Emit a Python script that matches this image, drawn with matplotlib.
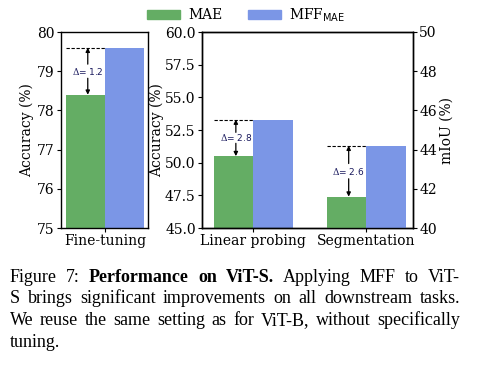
import matplotlib
matplotlib.use("Agg")
import matplotlib.pyplot as plt
from matplotlib.patches import Patch

plt.rcParams['font.family'] = 'DejaVu Serif'
plt.rcParams['mathtext.fontset'] = 'dejavuserif'

# ---- data ----
ft_labels = ["Fine-tuning"]
ft_mae = [78.4]
ft_mff = [79.6]
mid_labels = ["Linear probing", "Segmentation"]
lp_mae = 50.5
lp_mff = 53.3
seg_mae = 41.6
seg_mff = 44.2
deltas = ["1.2", "2.8", "2.6"]
series_names = ["MAE", r"MFF$_{\mathsf{MAE}}$"]

GREEN = "#64ad64"
BLUE = "#7b96e6"
W = 0.35
FS = 10

fig = plt.figure(figsize=(4.81, 3.68), dpi=100)

def style_ax(ax):
    ax.tick_params(labelsize=FS, length=3, width=0.8, pad=1.5)
    for s in ax.spines.values():
        s.set_linewidth(1.0)

def delta_mark(ax, x, lo, hi, txt):
    ax.plot([x - W, x], [hi, hi], ls='--', color='black', lw=0.8, dashes=(3, 1.5))
    mid = (lo + hi) / 2
    xa = x - W / 2 + 0.02
    ax.text(xa, mid, r"$\Delta$= " + txt, fontsize=6.5, family='DejaVu Sans',
            ha='center', va='center', color='#1a1a5e')
    span = hi - lo
    ax.annotate("", xy=(xa, hi), xytext=(xa, mid + span * 0.15),
                arrowprops=dict(arrowstyle='-|>', lw=0.9, color='black', mutation_scale=6, shrinkA=0, shrinkB=0))
    ax.annotate("", xy=(xa, lo), xytext=(xa, mid - span * 0.15),
                arrowprops=dict(arrowstyle='-|>', lw=0.9, color='black', mutation_scale=6, shrinkA=0, shrinkB=0))

# ---- left axes ----
ax1 = fig.add_axes([61/481, 1 - 228/368, 87/481, 196/368])
ax1.bar([-W/2], ft_mae, width=W, color=GREEN)
ax1.bar([W/2], ft_mff, width=W, color=BLUE)
ax1.set_ylim(75, 80)
ax1.set_xlim(-0.395, 0.385)
ax1.set_yticks([75, 76, 77, 78, 79, 80])
ax1.set_xticks([0])
ax1.set_xticklabels(ft_labels)
ax1.set_ylabel("Accuracy (%)", fontsize=FS, labelpad=2)
style_ax(ax1)
delta_mark(ax1, 0, ft_mae[0], ft_mff[0], deltas[0])

# ---- middle axes ----
ax2 = fig.add_axes([202/481, 1 - 228/368, 211/481, 196/368])
ax2.bar([-W/2], [lp_mae], width=W, color=GREEN)
ax2.bar([W/2], [lp_mff], width=W, color=BLUE)
ax2.set_ylim(45, 60)
ax2.set_yticks([45, 47.5, 50, 52.5, 55, 57.5, 60])
ax2.set_yticklabels(["45.0", "47.5", "50.0", "52.5", "55.0", "57.5", "60.0"])
ax2.set_xlim(-0.455, 1.415)
ax2.set_xticks([0, 1])
ax2.set_xticklabels(mid_labels)
ax2.set_ylabel("Accuracy (%)", fontsize=FS, labelpad=1)
style_ax(ax2)
delta_mark(ax2, 0, lp_mae, lp_mff, deltas[1])

ax3 = ax2.twinx()
ax3.bar([1 - W/2], [seg_mae], width=W, color=GREEN)
ax3.bar([1 + W/2], [seg_mff], width=W, color=BLUE)
ax3.set_ylim(40, 50)
ax3.set_yticks([40, 42, 44, 46, 48, 50])
ax3.set_ylabel("mIoU (%)", fontsize=FS, labelpad=2)
style_ax(ax3)
delta_mark(ax3, 1, seg_mae, seg_mff, deltas[2])

# ---- legend ----
handles = [Patch(color=GREEN), Patch(color=BLUE)]
fig.legend(handles, series_names, loc='center', bbox_to_anchor=(246/481, 1 - 15/368),
           ncol=2, frameon=False, fontsize=FS, handlelength=2.4, handleheight=0.7,
           columnspacing=1.8, handletextpad=0.6)

# ---- caption ----
renderer = fig.canvas.get_renderer()
CAP = dict(family='Liberation Serif', fontsize=13)
lines = [
    ([("Figure", 0), ("7:", 0), ("Performance", 1), ("on", 1), ("ViT-S.", 1), ("Applying", 0),
      ("MFF", 0), ("to", 0), ("ViT-", 0)], 282, True),
    ([("S", 0), ("brings", 0), ("significant", 0), ("improvements", 0), ("on", 0), ("all", 0),
      ("downstream", 0), ("tasks.", 0)], 303, True),
    ([("We", 0), ("reuse", 0), ("the", 0), ("same", 0), ("setting", 0), ("as", 0), ("for", 0),
      ("ViT-B,", 0), ("without", 0), ("specifically", 0)], 325, True),
    ([("tuning.", 0)], 347, False),
]
x0, x1 = 10, 460
for words, ybase, just in lines:
    ts = [fig.text(0, 1 - ybase/368, w, fontweight='bold' if b else 'normal',
                   va='baseline', ha='left', **CAP) for w, b in words]
    widths = [t.get_window_extent(renderer).width for t in ts]
    if just and len(ts) > 1:
        gap = (x1 - x0 - sum(widths)) / (len(ts) - 1)
    else:
        gap = 4
    x = x0
    for t, wd in zip(ts, widths):
        t.set_x(x / 481)
        x += wd + gap

fig.savefig("out.png", dpi=100)
